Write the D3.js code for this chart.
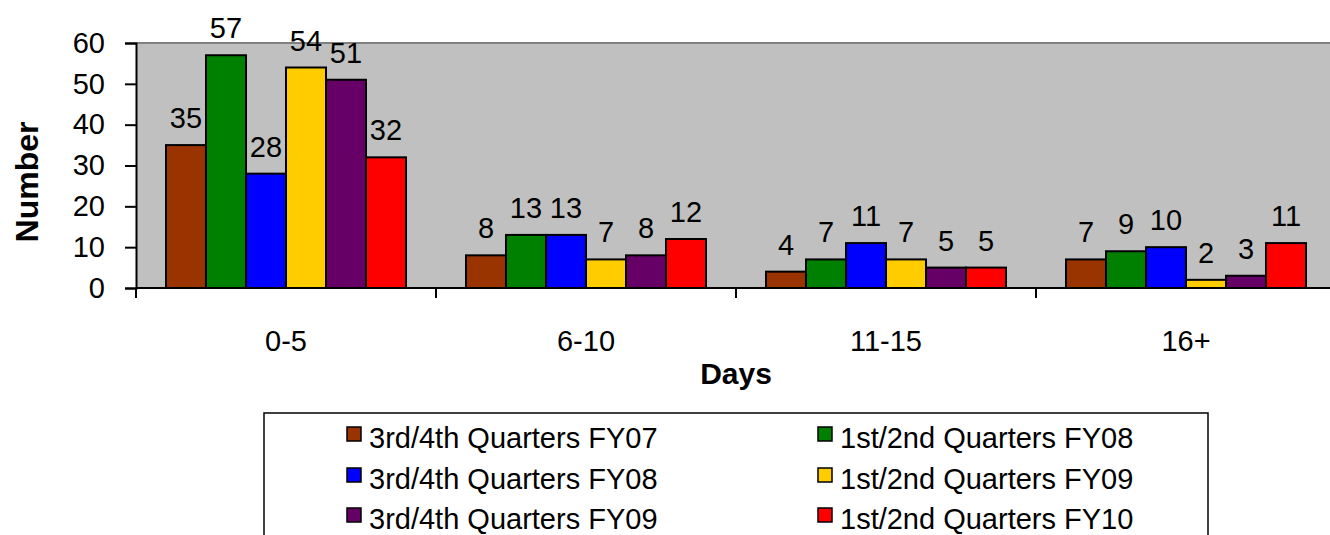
<!DOCTYPE html>
<html>
<head>
<meta charset="utf-8">
<script src="https://cdn.jsdelivr.net/npm/d3@7"></script>
<style>
  body { margin: 0; background: #fff; }
  svg text { font-family: "Liberation Sans", Arial, sans-serif; fill: #000; }
</style>
</head>
<body>
<div id="chart"></div>
<script>

var categories = ["0-5", "6-10", "11-15", "16+"];
var seriesNames = ["3rd/4th Quarters FY07", "1st/2nd Quarters FY08", "3rd/4th Quarters FY08",
                   "1st/2nd Quarters FY09", "3rd/4th Quarters FY09", "1st/2nd Quarters FY10"];
var seriesColors = ["#993300", "#008000", "#0000FF", "#FFCC00", "#660066", "#FF0000"];
var fy07_34 = [35, 8, 4, 7],
    fy08_12 = [57, 13, 7, 9],
    fy08_34 = [28, 13, 11, 10],
    fy09_12 = [54, 7, 7, 2],
    fy09_34 = [51, 8, 5, 3],
    fy10_12 = [32, 12, 5, 11];
var seriesValues = [fy07_34, fy08_12, fy08_34, fy09_12, fy09_34, fy10_12];
var yTicks = [0, 10, 20, 30, 40, 50, 60];

var svg_dx = 1330, svg_dy = 535;
var plot = {left: 136, top: 43, right: 1336, bottom: 288};

var svg = d3.select("#chart")
            .append("svg")
            .attr("width", svg_dx)
            .attr("height", svg_dy);

var x0 = d3.scaleBand().domain(categories).range([plot.left, plot.right]).padding(0),
    x1 = d3.scaleBand().domain(d3.range(seriesNames.length)).range([30, 270]).padding(0),
    y = d3.scaleLinear().domain([0, 60]).range([plot.bottom, plot.top]);

// grey plot area
svg.append("rect")
   .attr("x", plot.left)
   .attr("y", plot.top)
   .attr("width", plot.right - plot.left)
   .attr("height", plot.bottom - plot.top)
   .style("fill", "#C0C0C0");

svg.append("line")
   .attr("x1", plot.left).attr("x2", plot.right)
   .attr("y1", plot.top).attr("y2", plot.top)
   .style("stroke", "#808080").style("stroke-width", 2);

// bars
var groups = svg.append("g")
   .selectAll("g")
   .data(seriesValues)
   .enter()
   .append("g")
   .style("fill", (d, i) => seriesColors[i]);

groups.selectAll("rect")
   .data((d, i) => d.map((v, j) => ({s: i, c: categories[j], v: v})))
   .enter()
   .append("rect")
   .attr("x", d => x0(d.c) + x1(d.s))
   .attr("y", d => y(d.v))
   .attr("width", x1.bandwidth())
   .attr("height", d => y(0) - y(d.v))
   .style("stroke", "#000")
   .style("stroke-width", 2);

groups.selectAll("text")
   .data((d, i) => d.map((v, j) => ({s: i, c: categories[j], v: v})))
   .enter()
   .append("text")
   .attr("x", d => x0(d.c) + x1(d.s) + x1.bandwidth() / 2)
   .attr("y", d => y(d.v) - 17)
   .attr("text-anchor", "middle")
   .style("font-size", "29px")
   .style("fill", "#000")
   .text(d => d.v);

// y axis
var axis_y = d3.axisLeft(y).tickValues(yTicks).tickSize(11).tickPadding(20);
var gy = svg.append("g")
   .attr("transform", "translate(" + plot.left + ",0)")
   .call(axis_y);
gy.select(".domain").style("stroke", "#000").style("stroke-width", 2);
gy.selectAll(".tick line").style("stroke", "#000").style("stroke-width", 2);
gy.selectAll(".tick text").style("font-size", "29px").style("font-family", "Liberation Sans, Arial, sans-serif");

// x axis: ticks at category boundaries
svg.append("line")
   .attr("x1", plot.left).attr("x2", plot.right)
   .attr("y1", plot.bottom).attr("y2", plot.bottom)
   .style("stroke", "#000").style("stroke-width", 2);

svg.append("g")
   .selectAll("line")
   .data(categories.concat(["end"]))
   .enter()
   .append("line")
   .attr("x1", (d, i) => plot.left + i * x0.bandwidth())
   .attr("x2", (d, i) => plot.left + i * x0.bandwidth())
   .attr("y1", plot.bottom)
   .attr("y2", plot.bottom + 10)
   .style("stroke", "#000")
   .style("stroke-width", 2);

svg.append("g")
   .selectAll("text")
   .data(categories)
   .enter()
   .append("text")
   .attr("x", d => x0(d) + x0.bandwidth() / 2)
   .attr("y", 351)
   .attr("text-anchor", "middle")
   .style("font-size", "29px")
   .text(d => d);

// axis titles
svg.append("text")
   .attr("x", 736)
   .attr("y", 384)
   .attr("text-anchor", "middle")
   .style("font-size", "30px")
   .style("font-weight", "bold")
   .text("Days");

svg.append("text")
   .attr("transform", "translate(38,182) rotate(-90)")
   .attr("text-anchor", "middle")
   .style("font-size", "32px")
   .style("font-weight", "bold")
   .text("Number");

// legend
var legend = svg.append("g");
legend.append("rect")
   .attr("x", 264)
   .attr("y", 413)
   .attr("width", 944)
   .attr("height", 160)
   .style("fill", "#fff")
   .style("stroke", "#000")
   .style("stroke-width", 1.5);

var colX = [347, 818], rowY = [427, 468, 508];

var items = legend.selectAll("g.item")
   .data(seriesNames)
   .enter()
   .append("g")
   .attr("class", "item")
   .attr("transform", (d, i) => "translate(" + colX[i % 2] + "," + rowY[Math.floor(i / 2)] + ")");

items.append("rect")
   .attr("width", 14)
   .attr("height", 14)
   .style("fill", (d, i) => seriesColors[i])
   .style("stroke", "#000")
   .style("stroke-width", 1.5);

items.append("text")
   .attr("x", 22)
   .attr("y", 21)
   .style("font-size", "29px")
   .text(d => d);

</script>
</body>
</html>
